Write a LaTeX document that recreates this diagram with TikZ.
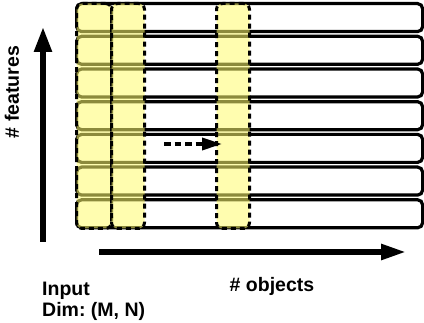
\documentclass[tikz,border=0pt]{standalone}
\usepackage{fontspec}
\setmainfont{Liberation Sans}
\usetikzlibrary{arrows.meta}
\definecolor{hilite}{RGB}{255,252,110}

\begin{document}
\begin{tikzpicture}[x=1pt,y=-1pt,
    rowbox/.style={draw, line width=3.2pt, rounded corners=5pt, fill=white,
      minimum width=346pt, minimum height=28pt, inner sep=0pt, anchor=north west},
    colbox/.style={draw, line width=3pt, dash pattern=on 5pt off 4pt,
      rounded corners=6pt, fill=hilite, fill opacity=0.55, draw opacity=1,
      minimum width=33pt, minimum height=225pt, inner sep=0pt, anchor=north west},
    axis/.style={line width=5.5pt, -{Triangle[length=25pt,width=17pt]}},
    lbl/.style={font=\fontsize{19.5}{23}\selectfont\bfseries, inner sep=0pt}]
      \useasboundingbox (0,0) rectangle (424,323);

      % the rows of the input
      \foreach \i in {1,...,7}
        \node (row\i) at (75,{2+32.7*(\i-1)}) [rowbox] {};

      % highlighted columns
      \node (col1) at (75,2)  [colbox, minimum width=35pt] {};
      \node (col2) at (110,2) [colbox] {};
      \node (col3) at (215,2) [colbox] {};

      % axes
      \coordinate (ybot) at (43,242);
      \coordinate (ytop) at (43,27);
      \coordinate (xleft) at (99,252);
      \coordinate (xright) at (406,252);
      \draw[axis] (ybot) -- (ytop);
      \draw[axis, -{Triangle[length=25pt,width=15pt]}] (xleft) -- (xright);

      % sliding direction
      \coordinate (slide0) at (164,144);
      \coordinate (slide1) at (222,144);
      \draw[line width=3.3pt, dash pattern=on 6.5pt off 4pt,
        -{Triangle[length=20pt,width=12pt]}] (slide0) -- (slide1);

      \node (feat) at (12,92) [lbl, rotate=90] {\# features};
      \node (obj) at (272,286) [lbl] {\# objects};
      \node (inp) at (42,291) [lbl, anchor=west] {Input};
      \node (dim) at (42,311) [lbl, anchor=west] {Dim:\ (M, N)};
\end{tikzpicture}
\end{document}
